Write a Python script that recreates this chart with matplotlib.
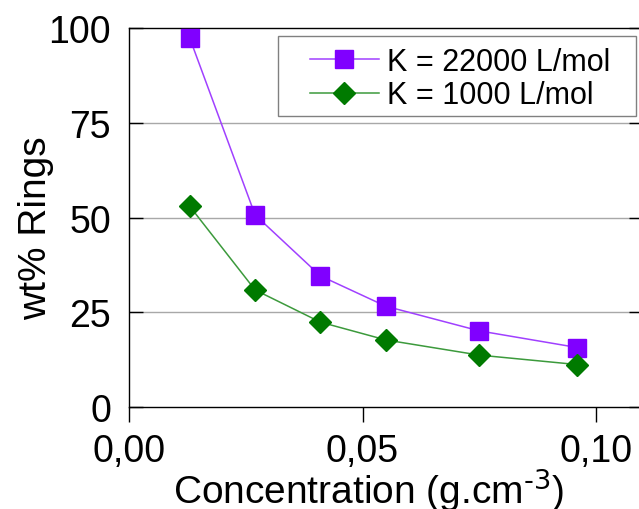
import numpy as np
import matplotlib.pyplot as plt
import matplotlib
from matplotlib.patches import Rectangle

matplotlib.rcParams['font.family'] = ['Liberation Sans', 'DejaVu Sans']
matplotlib.rcParams['mathtext.default'] = 'regular'

# concentration (g/cm3) and wt% rings
conc = [0.013, 0.027, 0.041, 0.055, 0.075, 0.096]
rings_k22000 = [97.4, 50.7, 34.6, 26.6, 20.1, 15.7]
rings_k1000 = [53.0, 30.9, 22.4, 17.7, 13.7, 11.2]

labels = ['K = 22000 L/mol', 'K = 1000 L/mol']
xticks = [0.0, 0.05, 0.10]
xticklabels = ['0,00', '0,05', '0,10']
yticks = [0, 25, 50, 75, 100]

fig = plt.figure(figsize=(6.39, 5.10), dpi=100)
ax = fig.add_axes([0.2019, 0.2, 1.0058 - 0.2019, 0.9427 - 0.2])

ax.plot(conc, rings_k22000, '-', color='#a040ff', lw=1.1, marker='s', ms=12.5,
        mfc='#8000ff', mec='#8000ff', label=labels[0], zorder=3)
ax.plot(conc, rings_k1000, '-', color='#3c9a3c', lw=1.1, marker='D', ms=11.5,
        mfc='#007a00', mec='#007a00', label=labels[1], zorder=3)

ax.set_xlim(0, 0.11)
ax.set_ylim(0, 100)
ax.set_xticks(xticks)
ax.set_xticklabels(xticklabels)
ax.set_yticks(yticks)

for y in [25, 50, 75]:
    ax.axhline(y, color='#a8a8a8', lw=1.0, zorder=1)

ax.tick_params(axis='y', direction='in', length=10, width=1, right=True,
               labelsize=27, pad=13)
ax.tick_params(axis='x', direction='out', length=11, width=1, labelsize=27, pad=8)
for s in ax.spines.values():
    s.set_linewidth(1.0)

ax.set_ylabel('wt% Rings', fontsize=28)
ax.yaxis.set_label_coords(-0.145, 0.475)
ax.set_xlabel('Concentration (g.cm$^{\\text{-3}}$)', fontsize=28)
ax.xaxis.set_label_coords(0.467, -0.155)

# legend frame drawn separately (wide left margin in the original)
ax.add_patch(Rectangle((0.290, 0.768), 0.697, 0.211, transform=ax.transAxes,
                       fill=True, fc='white', ec='#808080', lw=1.0, zorder=4))
leg = ax.legend(loc='upper left', fontsize=22, frameon=False,
                handlelength=2.25, handletextpad=0.26, borderpad=0,
                borderaxespad=0, labelspacing=0.12, bbox_to_anchor=(0.352, 0.951))
leg.set_zorder(5)

plt.savefig('out.png', dpi=100)
